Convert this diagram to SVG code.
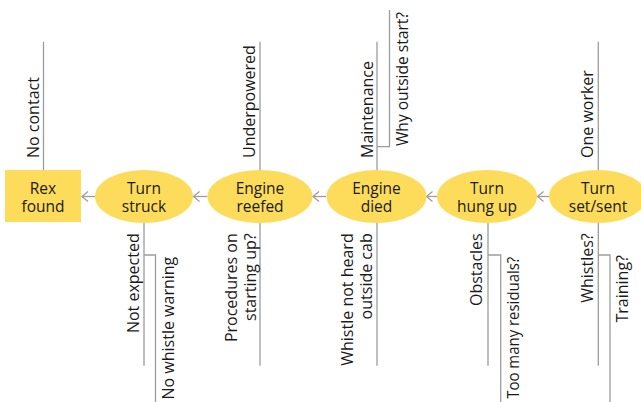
<svg xmlns="http://www.w3.org/2000/svg" width="641" height="402" viewBox="0 0 641 402">
<style>
.nd{fill:#FDDC5C}
.nt{font-family:"Open Sans","Noto Sans",sans-serif;font-size:15.5px;fill:#1a1a1a;text-anchor:middle}
.lb{font-family:"Open Sans","Noto Sans",sans-serif;font-size:16px;fill:#1a1a1a}
.ln{stroke:#9d9d9d;stroke-width:1.3;fill:none}
.up{text-anchor:start}
.dn{text-anchor:end}
</style>
<defs>
<marker id="ah" markerUnits="userSpaceOnUse" markerWidth="10" markerHeight="14" viewBox="-8 -7 10 14" refX="0" refY="0" orient="auto">
<path d="M-6,-5 L0,0 L-6,5" fill="none" stroke="#9d9d9d" stroke-width="1.3"/>
</marker>
</defs>
<rect width="641" height="402" fill="#ffffff"/>

<g id="connectors">
<path class="ln" d="M549,196.5 H537.5" marker-end="url(#ah)"/>
<path class="ln" d="M437,196.5 H426.5" marker-end="url(#ah)"/>
<path class="ln" d="M326,196.5 H313" marker-end="url(#ah)"/>
<path class="ln" d="M207.5,196.5 H193.5" marker-end="url(#ah)"/>
<path class="ln" d="M95,196.5 H82" marker-end="url(#ah)"/>
<path class="ln" d="M43.5,41.7 V170"/>
<path class="ln" d="M144,223 V365.7 M144,255 H155.5 V402"/>
<path class="ln" d="M260,41.7 V170"/>
<path class="ln" d="M260,223 V365.7"/>
<path class="ln" d="M377,41.7 V170 M377,146.7 H389.5 V10"/>
<path class="ln" d="M377,223 V365.7"/>
<path class="ln" d="M488,223 V365.7 M488,255 H500.7 V402"/>
<path class="ln" d="M598.3,41.7 V170"/>
<path class="ln" d="M598.3,223 V365.7 M598.3,255 H610 V402"/>
</g>

<g id="rex-found">
<rect class="nd" x="5" y="170" width="76" height="52"/>
<text class="nt" x="43" y="193.5">Rex<tspan x="43" dy="18.5">found</tspan></text>
<text class="lb up" transform="translate(39,158) rotate(-90)">No contact</text>
</g>

<g id="turn-struck">
<ellipse class="nd" cx="144" cy="196.5" rx="49" ry="26.5"/>
<text class="nt" x="144" y="193.5">Turn<tspan x="144" dy="18.5">struck</tspan></text>
<text class="lb dn" transform="translate(138.5,233.3) rotate(-90)">Not expected</text>
<text class="lb dn" transform="translate(173.5,256.7) rotate(-90)">No whistle warning</text>
</g>

<g id="engine-reefed">
<ellipse class="nd" cx="260" cy="196.5" rx="52.5" ry="26.5"/>
<text class="nt" x="260" y="193.5">Engine<tspan x="260" dy="18.5">reefed</tspan></text>
<text class="lb up" transform="translate(254.5,158) rotate(-90)">Underpowered</text>
<text class="lb dn" transform="translate(236.7,233.3) rotate(-90)">Procedures on<tspan x="0" dy="19.3">starting up?</tspan></text>
</g>

<g id="engine-died">
<ellipse class="nd" cx="376.5" cy="196.5" rx="50" ry="26.5"/>
<text class="nt" x="376.5" y="193.5">Engine<tspan x="376.5" dy="18.5">died</tspan></text>
<text class="lb up" transform="translate(372.5,158) rotate(-90)">Maintenance</text>
<text class="lb up" transform="translate(408.3,146) rotate(-90)" textLength="134" lengthAdjust="spacingAndGlyphs">Why outside start?</text>
<text class="lb dn" transform="translate(352.5,233.3) rotate(-90)">Whistle not heard<tspan x="0" dy="19.3">outside cab</tspan></text>
</g>

<g id="turn-hung-up">
<ellipse class="nd" cx="487" cy="196.5" rx="50" ry="26.5"/>
<text class="nt" x="487" y="193.5">Turn<tspan x="487" dy="18.5">hung up</tspan></text>
<text class="lb dn" transform="translate(482,233.3) rotate(-90)">Obstacles</text>
<text class="lb dn" transform="translate(518.5,256.7) rotate(-90)" textLength="142" lengthAdjust="spacingAndGlyphs">Too many residuals?</text>
</g>

<g id="turn-set-sent">
<ellipse class="nd" cx="598" cy="196.5" rx="49" ry="26.5"/>
<text class="nt" x="598" y="193.5">Turn<tspan x="598" dy="18.5">set/sent</tspan></text>
<text class="lb up" transform="translate(593,158) rotate(-90)">One worker</text>
<text class="lb dn" transform="translate(592.5,233.3) rotate(-90)">Whistles?</text>
<text class="lb dn" transform="translate(628.3,255) rotate(-90)">Training?</text>
</g>
</svg>
